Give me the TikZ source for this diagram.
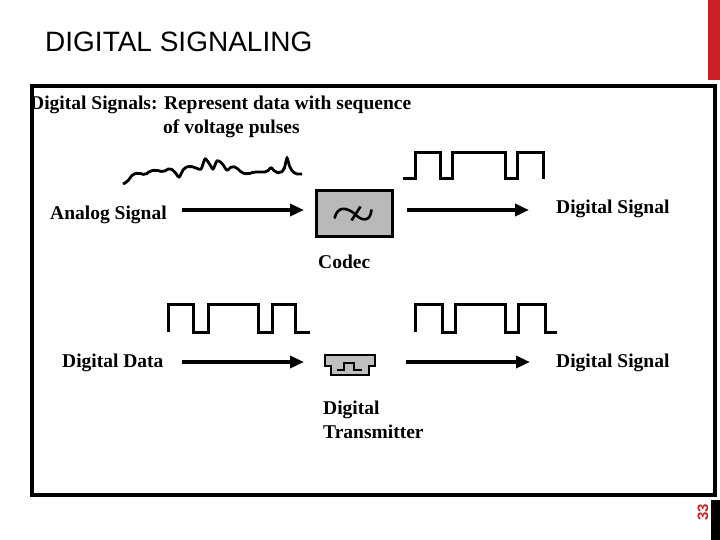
\documentclass[tikz,border=0pt]{standalone}
\usepackage{fontspec}
\setmainfont{Liberation Serif}
\newfontfamily\arialf{Liberation Sans}
\usetikzlibrary{arrows.meta}
\definecolor{slidered}{RGB}{204,32,39}
\tikzset{
  wave/.style={line width=3pt,line join=miter},
  sigarrow/.style={line width=3.5pt,-{Triangle[length=14pt,width=12pt]}},
  lbl/.style={font=\bfseries\fontsize{19.5}{22}\selectfont,anchor=base west,inner sep=0pt},
}
\begin{document}
\begin{tikzpicture}[x=1pt,y=-1pt]
\useasboundingbox (0,0) rectangle (720,540);
\fill[slidered] (708,0) rectangle (720,80);
\fill[black] (711,500) rectangle (720,540);
\node[text=slidered,rotate=90,font=\arialf\bfseries\fontsize{15}{15}\selectfont,inner sep=0pt] (pg) at (703,512) {33};
\node[anchor=base west,inner sep=0pt,font=\arialf\fontsize{28}{30}\selectfont] (title) at (45,52) {DIGITAL SIGNALING};
\draw[line width=3.5pt] (32,86) rectangle (715,495);
\node[lbl] (h1) at (30,110) {Digital Signals: Represent data with sequence};
\node[lbl] (h2) at (163,134) {of voltage pulses};
% analog wave
\draw[line width=2.8pt,rounded corners=2pt] (123,184) -- (127,182) -- (133,174) -- (139,173) -- (145,175) -- (150,171) -- (156,170) -- (163,172) -- (170,168) -- (175,172) -- (179,178) -- (184,168) -- (190,166) -- (196,168) -- (201,170) -- (205,158) -- (209,163) -- (213,170) -- (217,160) -- (222,163) -- (227,171) -- (232,166) -- (237,168) -- (242,173) -- (248,174) -- (254,172) -- (262,172) -- (267,172) -- (271,167) -- (275,172) -- (280,173) -- (284,170) -- (287,157) -- (290,168) -- (295,174) -- (302,174);
% top digital
\draw[wave] (403,179) -- (415,179) -- (415,153) -- (440,153) -- (440,179) -- (452,179) -- (452,153) -- (505,153) -- (505,179) -- (517,179) -- (517,153) -- (543,153) -- (543,179);
% codec
\node[draw,line width=3pt,fill=gray!55,minimum width=76pt,minimum height=46pt,inner sep=0pt] (codec) at (354.5,213.5) {};
\draw[line width=2.6pt] ([shift={(-20,5)}]codec.center) .. controls ([shift={(-17,-8)}]codec.center) and ([shift={(-8,-6)}]codec.center) .. ([shift={(0,0)}]codec.center) .. controls ([shift={(6,7)}]codec.center) and ([shift={(16,10)}]codec.center) .. ([shift={(17,-4)}]codec.center);
\draw[line width=2.6pt] ([shift={(-3,7)}]codec.center) -- ([shift={(6,-7)}]codec.center);
\node[lbl] (codecl) at (318,268) {Codec};
\coordinate (a1s) at (182,210); \coordinate (a1e) at (304,210);
\coordinate (a2s) at (407,210); \coordinate (a2e) at (529,210);
\draw[sigarrow] (a1s) -- (a1e);
\draw[sigarrow] (a2s) -- (a2e);
\node[lbl] (anl) at (50,219) {Analog Signal};
\node[lbl] (dsig1) at (556,214) {Digital Signal};
% bottom waves
\draw[wave] (168,332) -- (168,304) -- (193,304) -- (193,332) -- (208,332) -- (208,304) -- (258,304) -- (258,332) -- (272,332) -- (272,304) -- (295,304) -- (295,332) -- (310,332);
\draw[wave] (415,332) -- (415,304) -- (442,304) -- (442,332) -- (455,332) -- (455,304) -- (505,304) -- (505,332) -- (518,332) -- (518,304) -- (545,304) -- (545,332) -- (557,332);
\coordinate (b1s) at (182,362); \coordinate (b1e) at (304,362);
\coordinate (b2s) at (406,362); \coordinate (b2e) at (530,362);
\draw[sigarrow] (b1s) -- (b1e);
\draw[sigarrow] (b2s) -- (b2e);
% transmitter
\draw[line width=1.5pt,fill=gray!50] (325,355) -- (375,355) -- (375,366) -- (369,366) -- (369,375) -- (331,375) -- (331,366) -- (325,366) -- cycle;
\draw[line width=1.3pt] (337,370) -- (344,370) -- (344,363) -- (354,363) -- (354,370) -- (362,370);
\node[lbl] (ddl) at (62,367) {Digital Data};
\node[lbl] (dsig2) at (556,367) {Digital Signal};
\node[lbl] (dt1) at (323,414) {Digital};
\node[lbl] (dt2) at (323,438) {Transmitter};
\end{tikzpicture}
\end{document}
